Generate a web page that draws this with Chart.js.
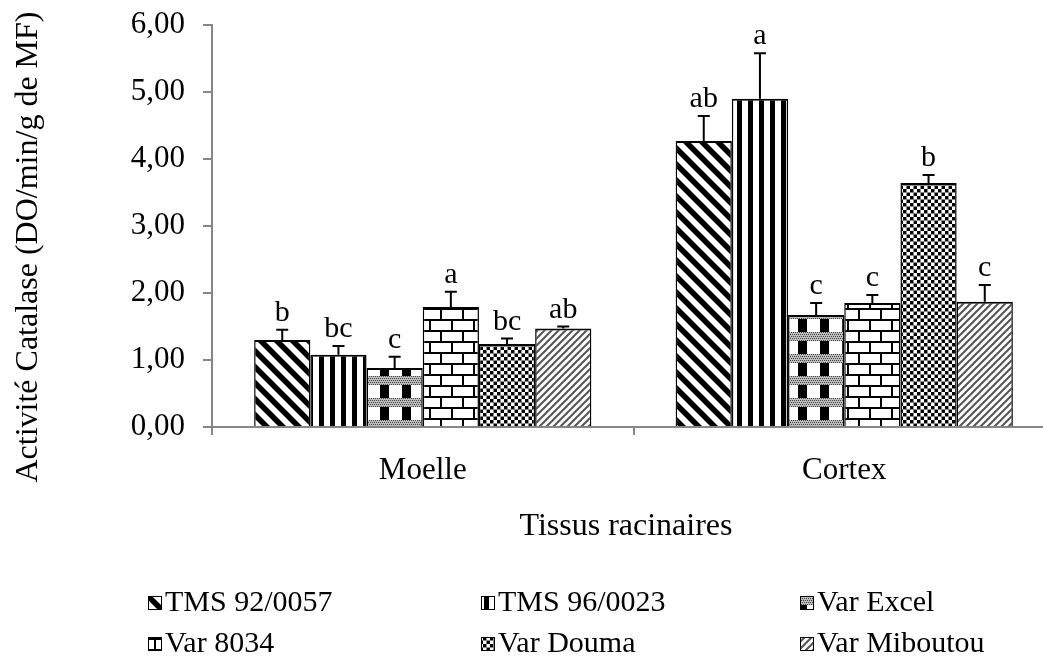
<!DOCTYPE html>
<html>
<head>
<meta charset="utf-8">
<script src="https://cdn.jsdelivr.net/npm/chart.js@4.4.1/dist/chart.umd.min.js"></script>
<style>
  body { margin: 0; background: #fff; }
  canvas { display: block; }
</style>
</head>
<body>
<canvas id="chartCanvas" width="1043" height="668"></canvas>
<script>
const categories = ['Moelle', 'Cortex'];
const seriesNames = ['TMS 92/0057', 'TMS 96/0023', 'Var Excel', 'Var 8034', 'Var Douma', 'Var Miboutou'];
const moelleValues = [1.30, 1.08, 0.88, 1.79, 1.24, 1.47];
const cortexValues = [4.27, 4.90, 1.67, 1.85, 3.64, 1.87];
const moelleErrors = [0.15, 0.13, 0.17, 0.23, 0.08, 0.03];
const cortexErrors = [0.37, 0.68, 0.18, 0.12, 0.12, 0.25];
const moelleLetters = ['b', 'bc', 'c', 'a', 'bc', 'ab'];
const cortexLetters = ['ab', 'a', 'c', 'c', 'b', 'c'];
const yMin = 0, yMax = 6, yStep = 1;

const FONT = '"Liberation Serif", "Times New Roman", serif';
const AXIS_GREY = '#868686';

Chart.defaults.font.family = FONT;
Chart.defaults.font.size = 31;
Chart.defaults.color = '#000';

const canvas = document.getElementById('chartCanvas');
const ctx = canvas.getContext('2d');

// small tiles turned into fill patterns
function makePattern(w, h, draw) {
    const c = document.createElement('canvas');
    c.width = w;
    c.height = h;
    const g = c.getContext('2d');
    g.fillStyle = '#fff';
    g.fillRect(0, 0, w, h);
    draw(g, w, h);
    return ctx.createPattern(c, 'repeat');
}

function diagonal(g, w, h, width, color, up) {
    g.strokeStyle = color;
    g.lineWidth = width;
    for (const o of [-w, 0, w]) {
        g.beginPath();
        if (up) {
            g.moveTo(o - 2, h + 2);
            g.lineTo(o + w + 2, -2);
        } else {
            g.moveTo(o - 2, -2);
            g.lineTo(o + w + 2, h + 2);
        }
        g.stroke();
    }
}

const patterns = [
    makePattern(16, 16, (g, w, h) => diagonal(g, w, h, 5.5, '#000', false)),
    makePattern(11, 4, (g) => { g.fillStyle = '#000'; g.fillRect(0, 0, 5, 4); }),
    makePattern(22, 22, (g) => {
        g.fillStyle = '#000';
        g.fillRect(6, 0, 9, 22);
        g.fillStyle = '#bdbdbd';
        g.fillRect(0, 2, 22, 9);
        g.fillStyle = '#444';
        for (let y = 2; y < 11; y += 2) {
            for (let x = (y / 2) % 2; x < 22; x += 2) g.fillRect(x, y, 1, 1);
        }
    }),
    makePattern(22, 22, (g) => {
        g.fillStyle = '#000';
        g.fillRect(0, 0, 22, 2);
        g.fillRect(0, 11, 22, 2);
        g.fillRect(0, 0, 2, 11);
        g.fillRect(11, 11, 2, 11);
    }),
    makePattern(7, 7, (g) => {
        g.fillStyle = '#000';
        g.fillRect(0, 0, 3, 3);
        g.fillRect(4, 4, 3, 3);
        g.fillStyle = '#8a8a8a';
        g.fillRect(3, 0, 1, 7);
        g.fillRect(0, 3, 7, 1);
    }),
    makePattern(7, 7, (g, w, h) => diagonal(g, w, h, 2, '#555', true))
];

const datasets = seriesNames.map((name, i) => ({
    label: name,
    data: [moelleValues[i], cortexValues[i]],
    errors: [moelleErrors[i], cortexErrors[i]],
    letters: [moelleLetters[i], cortexLetters[i]],
    backgroundColor: patterns[i],
    borderColor: '#000',
    borderWidth: { top: 2, left: 1.5, right: 1.5, bottom: 0 },
    barPercentage: 1.0,
    categoryPercentage: 0.8
}));

// the plot area of the original runs a bit past the right edge of the picture
const widenPlugin = {
    id: 'widen',
    afterLayout(chart) {
        const x = chart.scales.x;
        x.width = 843;
        x.right = x.left + x.width;
        x.configure();
    }
};

// upper error bars + letters of significance
const errorBarPlugin = {
    id: 'errorBars',
    afterDatasetsDraw(chart) {
        const c = chart.ctx;
        const yScale = chart.scales.y;
        c.save();
        c.strokeStyle = '#000';
        c.lineWidth = 2;
        c.fillStyle = '#000';
        c.font = '30px ' + FONT;
        c.textAlign = 'center';
        c.textBaseline = 'alphabetic';
        chart.data.datasets.forEach((ds, i) => {
            const meta = chart.getDatasetMeta(i);
            meta.data.forEach((bar, j) => {
                const top = yScale.getPixelForValue(ds.data[j] + ds.errors[j]);
                c.beginPath();
                c.moveTo(bar.x, bar.y);
                c.lineTo(bar.x, top);
                c.moveTo(bar.x - 6, top);
                c.lineTo(bar.x + 6, top);
                c.stroke();
                c.fillText(ds.letters[j], bar.x, top - 9);
            });
        });
        c.restore();
    }
};

// axis titles placed by hand, legend laid out in 3 columns like the original
const legendCols = [148, 481, 800];
const legendRows = [603, 644];
const extrasPlugin = {
    id: 'extras',
    afterDraw(chart) {
        const c = chart.ctx;
        c.save();
        c.fillStyle = '#000';
        c.font = '32px ' + FONT;
        c.textAlign = 'center';
        c.textBaseline = 'middle';
        c.fillText('Tissus racinaires', 626, 527);
        c.translate(29, 247);
        c.rotate(-Math.PI / 2);
        c.fillText('Activité Catalase (DO/min/g de MF)', 0, 0);
        c.restore();

        c.save();
        c.font = '30px ' + FONT;
        c.textBaseline = 'middle';
        chart.data.datasets.forEach((ds, i) => {
            const x = legendCols[i % 3];
            const y = legendRows[Math.floor(i / 3)];
            c.fillStyle = ds.backgroundColor;
            c.fillRect(x, y - 7, 14, 14);
            c.strokeStyle = '#000';
            c.lineWidth = 1;
            c.strokeRect(x + 0.5, y - 6.5, 13, 13);
            c.fillStyle = '#000';
            c.fillText(ds.label, x + 17, y);
        });
        c.restore();
    }
};

new Chart(ctx, {
    type: 'bar',
    data: {
        labels: categories,
        datasets: datasets
    },
    options: {
        responsive: false,
        animation: false,
        layout: {
            padding: { top: 25, right: 0, bottom: 121, left: 0 }
        },
        plugins: {
            legend: { display: false },
            tooltip: { enabled: false }
        },
        scales: {
            x: {
                grid: {
                    drawOnChartArea: false,
                    color: AXIS_GREY,
                    lineWidth: 2,
                    tickLength: 8
                },
                border: { color: AXIS_GREY, width: 2 },
                ticks: { padding: 17 },
                afterFit(scale) {
                    scale.height = 120;
                    scale.paddingLeft = 0;
                    scale.paddingRight = 0;
                }
            },
            y: {
                min: yMin,
                max: yMax,
                grid: {
                    drawOnChartArea: false,
                    color: AXIS_GREY,
                    lineWidth: 2,
                    tickLength: 9
                },
                border: { color: AXIS_GREY, width: 2 },
                ticks: {
                    stepSize: yStep,
                    padding: 18,
                    callback: (v) => v.toFixed(2).replace('.', ',')
                },
                afterFit(scale) {
                    scale.width = 212;
                    scale.paddingTop = 0;
                    scale.paddingBottom = 0;
                }
            }
        }
    },
    plugins: [widenPlugin, errorBarPlugin, extrasPlugin]
});
</script>
</body>
</html>
